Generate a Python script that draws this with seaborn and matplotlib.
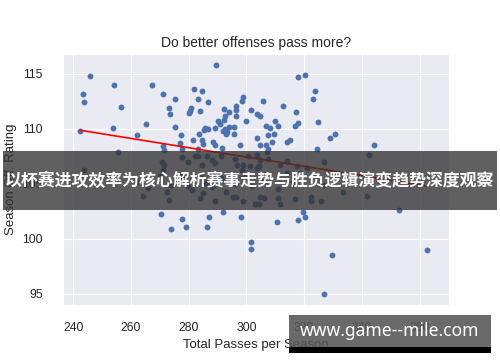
import seaborn as sns
import pandas as pd
import numpy as np
import matplotlib.pyplot as plt
from matplotlib.patches import Rectangle

# values
# (the last 18 sit under the banner text, where they are mostly hidden)
passes = [
    245.8, 254.2, 243.3, 243.7, 256.5, 267.4, 271.0, 275.3, 273.2, 273.4,
    281.7, 284.5, 283.1, 286.6, 280.8, 280.4, 280.2, 283.9, 242.3, 253.9,
    265.3, 262.2, 275.1, 277.3, 277.0, 271.1, 281.6, 283.7, 284.7, 285.4,
    286.6, 283.3, 277.8, 271.5, 289.6, 317.8, 320.4, 323.7, 322.9, 298.8,
    298.6, 296.4, 296.5, 296.5, 305.6, 312.5, 317.0, 301.6, 303.6, 304.7,
    292.3, 294.0, 292.6, 292.2, 299.9, 290.3, 290.9, 292.6, 293.4, 292.0,
    293.8, 292.8, 285.6, 289.2, 295.8, 295.8, 306.7, 308.1, 309.9, 310.8,
    316.7, 317.9, 324.8, 329.0, 330.8, 303.6, 307.6, 309.7, 309.0, 304.7,
    306.8, 307.6, 314.2, 315.1, 297.9, 288.3, 289.1, 285.1, 291.4, 324.4,
    344.1, 342.6, 255.4, 243.8, 270.6, 271.4, 271.2, 272.4, 273.1, 264.1,
    277.6, 279.9, 282.2, 283.3, 284.5, 277.6, 279.7, 286.3, 288.0, 289.1,
    291.2, 296.0, 296.8, 298.9, 298.4, 300.5, 303.6, 304.7, 307.6, 307.0,
    301.2, 303.6, 304.5, 311.6, 314.2, 317.4, 318.6, 320.9, 326.7, 314.0,
    289.1, 295.5, 296.4, 298.9, 303.0, 304.2, 304.7, 305.9, 310.8, 311.6,
    316.8, 322.4, 322.4, 325.9, 285.1, 283.9, 333.6, 341.9, 270.3, 277.8,
    279.0, 273.9, 286.2, 287.0, 291.8, 298.0, 310.5, 317.9, 320.4, 319.7,
    301.6, 301.5, 329.6, 326.7, 362.7, 352.8,
    262.0, 266.0, 270.0, 274.0, 278.0, 281.0, 284.0, 286.0, 288.0, 291.0,
    293.0, 296.0, 299.0, 302.0, 306.0, 311.0, 316.0, 327.0,
]
off_rating = [
    114.8, 114.0, 113.2, 112.4, 112.0, 114.0, 113.2, 112.7, 111.9, 111.3,
    113.6, 113.4, 112.7, 112.4, 111.9, 111.6, 111.4, 111.6, 109.8, 110.1,
    110.4, 109.4, 110.2, 109.4, 108.7, 108.4, 109.0, 109.5, 109.0, 109.9,
    110.0, 108.2, 108.2, 108.1, 115.8, 114.7, 114.9, 113.4, 112.7, 112.9,
    112.5, 112.1, 111.7, 111.2, 112.5, 112.1, 111.5, 111.7, 111.3, 111.2,
    111.8, 111.5, 111.2, 110.8, 110.7, 110.7, 110.4, 110.0, 109.7, 109.8,
    110.2, 109.5, 110.1, 110.1, 110.2, 109.5, 110.3, 110.1, 110.7, 110.3,
    110.3, 110.5, 110.6, 109.2, 109.5, 109.2, 109.4, 109.5, 108.8, 108.5,
    108.5, 108.2, 108.8, 109.0, 108.5, 108.8, 108.5, 108.6, 108.3, 108.2,
    108.5, 107.6, 107.9, 106.3, 107.0, 106.7, 106.3, 104.3, 103.5, 103.9,
    107.4, 107.0, 107.5, 107.5, 106.7, 105.8, 104.8, 107.5, 107.2, 106.9,
    107.5, 107.3, 106.7, 106.7, 106.3, 107.5, 107.6, 107.2, 107.3, 107.9,
    106.6, 106.4, 106.6, 106.7, 107.1, 106.6, 106.0, 106.4, 107.0, 106.0,
    103.4, 103.8, 103.8, 103.4, 103.2, 103.2, 103.8, 103.7, 103.7, 103.2,
    103.6, 103.8, 103.4, 103.4, 104.2, 103.7, 104.3, 103.9, 102.3, 101.8,
    101.1, 100.9, 101.1, 102.0, 102.4, 102.0, 101.5, 101.7, 102.0, 102.4,
    99.7, 99.1, 98.5, 95.0, 99.0, 102.6,
    105.2, 104.6, 105.7, 104.9, 105.4, 104.4, 105.8, 105.1, 104.7, 105.5,
    104.3, 105.0, 105.6, 104.8, 105.3, 104.5, 105.2, 104.9,
]
x_ticks = [240, 260, 280, 300, 320, 340, 360]
y_ticks = [95, 100, 105, 110, 115]

banner_text = '以杯赛进攻效率为核心解析赛事走势与胜负逻辑演变趋势深度观察'
watermark_text = 'www.game--mile.com'

df = pd.DataFrame({'passes': passes, 'rating': off_rating})

sns.set_style('darkgrid')
plt.rcParams['font.family'] = ['Liberation Sans', 'Noto Sans CJK SC', 'DejaVu Sans']

fig = plt.figure(figsize=(5, 3.62), dpi=100)
ax = fig.add_axes([0.126, 0.1575, 0.772, 0.6935])

sns.regplot(data=df, x='passes', y='rating', ax=ax, ci=None,
            scatter_kws={'s': 18, 'color': '#4C72B0', 'alpha': 1, 'linewidths': 0},
            line_kws={'color': 'red', 'lw': 1.2})

ax.set_xlim(236.4, 370.2)
ax.set_ylim(94.0, 116.8)
ax.set_xticks(x_ticks)
ax.set_yticks(y_ticks)
ax.tick_params(axis='x', labelsize=8.7, pad=8.5)
ax.tick_params(axis='y', labelsize=8.7, pad=11)
ax.set_title('Do better offenses pass more?', fontsize=10, pad=5)
ax.set_xlabel('Total Passes per Season', fontsize=9.5, labelpad=4)
ax.set_ylabel('Season Off. Rating', fontsize=9.5, labelpad=4)

# overlay banner across the middle
fig.add_artist(Rectangle((0.006, 0.42), 0.988, 0.163, transform=fig.transFigure,
                         facecolor='#333333', alpha=0.78, edgecolor='none'))
fig.text(0.5, 0.50, banner_text, color='white', fontsize=12.2, fontweight='bold',
         ha='center', va='center', family=['Noto Sans CJK SC', 'DejaVu Sans'])

# watermark box bottom right
fig.add_artist(Rectangle((0.578, 0.025), 0.404, 0.017, transform=fig.transFigure,
                         facecolor='black', edgecolor='none'))
fig.add_artist(Rectangle((0.578, 0.042), 0.404, 0.088, transform=fig.transFigure,
                         facecolor='#555555', alpha=0.88, edgecolor='none'))
fig.text(0.78, 0.086, watermark_text, color='white', fontsize=12.6, fontweight='bold',
         ha='center', va='center', family=['Noto Sans', 'DejaVu Sans'])

plt.savefig('out.png', dpi=100)
